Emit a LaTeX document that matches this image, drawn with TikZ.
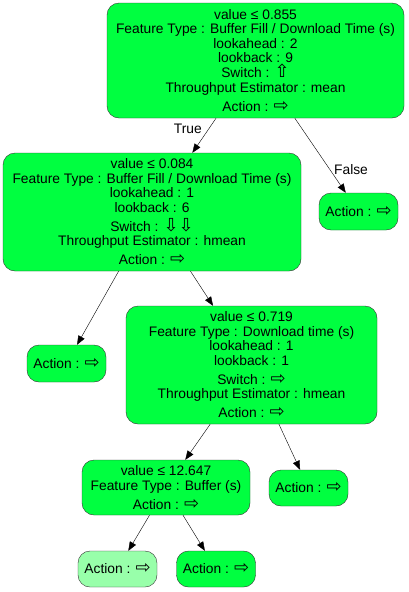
\documentclass[tikz,border=0pt]{standalone}
\usepackage{fontspec}
\setmainfont{Liberation Sans}
\newfontfamily\arrowfont[Scale=1.3]{DejaVu Sans}
\usetikzlibrary{positioning, arrows.meta}
\definecolor{nodegreen}{RGB}{0,255,64}
\definecolor{leafgreen}{RGB}{152,255,170}
\newcommand{\actright}{{\arrowfont\symbol{"21E8}}}
\newcommand{\swup}{{\arrowfont\symbol{"21E7}}}
\newcommand{\swdown}{{\arrowfont\symbol{"21E9}}}

\begin{document}
\begin{tikzpicture}[
x=1pt, y=-1pt,
box/.style={rectangle, draw=black!80, rounded corners=12pt, fill=nodegreen, align=center, inner sep=0pt, font=\fontsize{13.8}{14.5}\selectfont},
leaf/.style={box, minimum width=79pt, minimum height=37pt},
arrow/.style={-{Triangle[length=9pt, width=7pt]}, black},
elabel/.style={inner sep=0pt, font=\fontsize{13.8}{14.5}\selectfont}
]
\useasboundingbox (0,0) rectangle (408,592);

% Root split
\node[box, minimum width=297pt, minimum height=115pt] (root) at (255.5,60.5) {value ≤ 0.855\\Feature Type : Buffer Fill / Download Time (s)\\lookahead : 2\\lookback : 9\\[0.5pt]Switch : \swup\\Throughput Estimator : mean\\[5pt]Action : \actright};
\node[leaf] (rootfalse) at (358.5,211.5) {Action : \actright};

% Second level
\node[box, minimum width=298pt, minimum height=118pt] (split1) at (152,212) {value ≤ 0.084\\Feature Type : Buffer Fill / Download Time (s)\\lookahead : 1\\lookback : 6\\[4.5pt]Switch : \swdown\swdown\\Throughput Estimator : hmean\\[4.5pt]Action : \actright};
\node[leaf] (leaf1) at (66.5,363.5) {Action : \actright};

% Third level
\node[box, minimum width=251pt, minimum height=118pt] (split2) at (251.5,365) {value ≤ 0.719\\Feature Type : Download time (s)\\lookahead : 1\\lookback : 1\\[4.5pt]Switch : \actright\\Throughput Estimator : hmean\\[4.5pt]Action : \actright};
\node[leaf, minimum height=36pt] (leaf2) at (308.5,488) {Action : \actright};

% Fourth level
\node[box, minimum width=168pt, minimum height=55pt] (split3) at (166,487.5) {value ≤ 12.647\\Feature Type : Buffer (s)\\[4.5pt]Action : \actright};
\node[leaf, minimum height=36pt, fill=leafgreen] (leaf3) at (117.5,569) {Action : \actright};
\node[leaf, minimum height=36pt] (leaf4) at (216,569) {Action : \actright};

\draw[arrow] (root) -- (split1) node[elabel, pos=0.3, left=7pt] {True};
\draw[arrow] (root) -- (rootfalse) node[elabel, pos=0.69, right=4pt] {False};
\draw[arrow] (split1) -- (leaf1);
\draw[arrow] (split1) -- (split2);
\draw[arrow] (split2) -- (split3);
\draw[arrow] (split2) -- (leaf2);
\draw[arrow] (split3) -- (leaf3);
\draw[arrow] (split3) -- (leaf4);

\end{tikzpicture}
\end{document}
